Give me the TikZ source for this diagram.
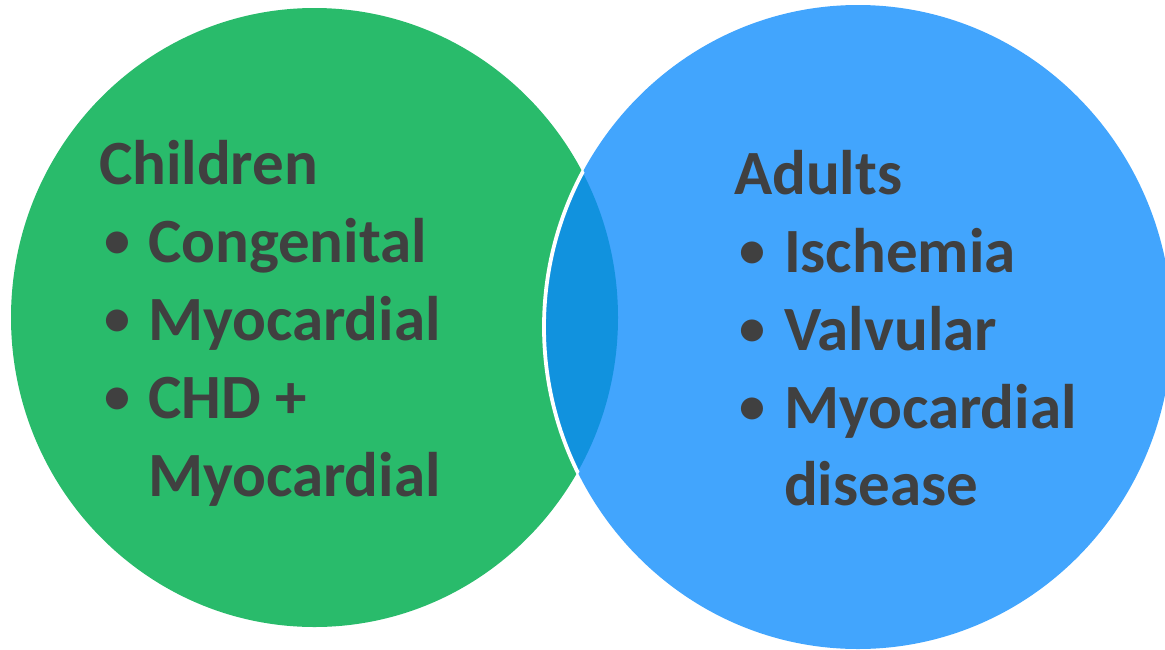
\documentclass[tikz,border=0pt]{standalone}
\usepackage{fontspec}
\setmainfont{Carlito}
\definecolor{vgreen}{HTML}{29BB6B}
\definecolor{vblue}{HTML}{42A5FD}
\definecolor{vdark}{HTML}{1192DE}
\definecolor{vtext}{HTML}{404040}
\tikzset{
  vtxt/.style={anchor=base west, inner sep=0pt, outer sep=0pt, text=vtext,
    font=\fontsize{63}{75}\selectfont\bfseries},
  vbul/.style={anchor=base west, inner sep=0pt, outer sep=0pt, text=vtext,
    font=\fontsize{52}{60}\selectfont\bfseries},
}
\begin{document}
\begin{tikzpicture}[x=1pt,y=-1pt]
\useasboundingbox (0,0) rectangle (1165,649);
% circles
\fill[vgreen] (314.5,317.5) ellipse [x radius=303.5, y radius=309.5];
\fill[vblue] (858,327) ellipse [x radius=314, y radius=322];
\begin{scope}
  \clip (314.5,317.5) ellipse [x radius=303.5, y radius=309.5];
  \fill[vdark] (858,327) ellipse [x radius=314, y radius=322];
\end{scope}
\begin{scope}
  \clip (314.5,317.5) ellipse [x radius=305, y radius=311];
  \draw[white, line width=3.8pt] (858,327) ellipse [x radius=314, y radius=322];
\end{scope}
% left text
\node[vtxt] (ch) at (99,184) {Children};
\node[vbul] (b1) at (104,257) {•};
\node[vtxt] (l1) at (148,262) {Congenital};
\node[vbul] (b2) at (104,335) {•};
\node[vtxt] (l2) at (148,340) {Myocardial};
\node[vbul] (b3) at (104,413) {•};
\node[vtxt] (l3) at (148,418) {CHD +};
\node[vtxt] (l4) at (148,496) {Myocardial};
% right text
\node[vtxt] (ad) at (734,194) {Adults};
\node[vbul] (c1) at (739,267) {•};
\node[vtxt] (r1) at (784,272) {Ischemia};
\node[vbul] (c2) at (739,345) {•};
\node[vtxt] (r2) at (784,350) {Valvular};
\node[vbul] (c3) at (739,423) {•};
\node[vtxt] (r3) at (784,428) {Myocardial};
\node[vtxt] (r4) at (784,505) {disease};
\end{tikzpicture}
\end{document}
